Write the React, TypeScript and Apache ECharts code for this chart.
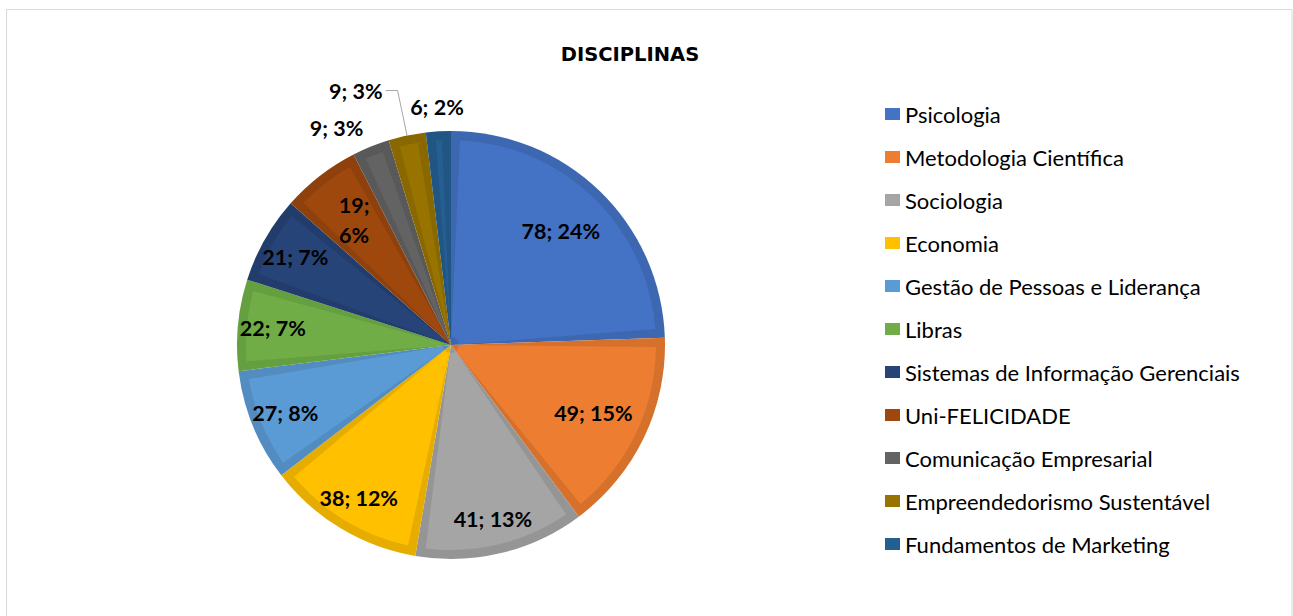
import React, { useEffect, useRef } from "react";
import * as echarts from "echarts";

const categories = [
  "Psicologia",
  "Metodologia Científica",
  "Sociologia",
  "Economia",
  "Gestão de Pessoas e Liderança",
  "Libras",
  "Sistemas de Informação Gerenciais",
  "Uni-FELICIDADE",
  "Comunicação Empresarial",
  "Empreendedorismo Sustentável",
  "Fundamentos de Marketing",
];
const values = [78, 49, 41, 38, 27, 22, 21, 19, 9, 9, 6];
const lightColors = [
  "#4472C4", "#ED7D31", "#A5A5A5", "#FFC000", "#5B9BD5", "#70AD47",
  "#264478", "#9E480E", "#636363", "#997300", "#255E91",
];
const darkColors = [
  "#3E67B1", "#D6712C", "#959595", "#E6AD00", "#528CC0", "#65A040",
  "#223D6C", "#8E410D", "#595959", "#8A6800", "#215583",
];
const nearLabelIdx = [0, 1, 7];
const farLabelIdx = [2, 3, 4, 5, 6];
const outerRingLabelIdx = [10];
const plainOutsideIdx = [8];
const leaderLabelIdx = [9];
const twoLineLabelIdx = [7];

const FONT = "Lato, 'Open Sans', sans-serif";

export default function App() {
  const ref = useRef<HTMLDivElement>(null);
  useEffect(() => {
    if (!ref.current) return;
    const chart = echarts.init(ref.current, undefined, { renderer: "svg" });
    const cx = 451;
    const cy = 345;
    const R = 214;
    const labelText = {
      color: "#000",
      fontFamily: FONT,
      fontWeight: "bold" as const,
      fontSize: 21.5,
    };
    const darkData = categories.map((name, i) => {
      const leader = leaderLabelIdx.includes(i);
      const plain = plainOutsideIdx.includes(i);
      return {
        name,
        value: values[i],
        itemStyle: { color: darkColors[i] },
        label:
          leader || plain
            ? { show: true, position: "outside", formatter: "{c}; {d}%", ...labelText, distanceToLabelLine: leader ? 3 : 0 }
            : { show: false },
        labelLine: leader
          ? { show: true, length: 46, length2: 12, lineStyle: { color: "#A6A6A6", width: 1 } }
          : plain
          ? { show: false, length: 20, length2: 0 }
          : { show: false },
      };
    });
    const lightData = categories.map((name, i) => ({
      name,
      value: values[i],
      itemStyle: { color: lightColors[i] },
    }));
    const labelData = (idx: number[]) =>
      categories.map((name, i) => ({
        name,
        value: values[i],
        label: {
          show: idx.includes(i),
          formatter: twoLineLabelIdx.includes(i) ? "{c};\n{d}%" : "{c}; {d}%",
        },
      }));
    const common = {
      type: "pie" as const,
      center: [cx, cy],
      startAngle: 90,
      clockwise: true,
      percentPrecision: 0,
      avoidLabelOverlap: false,
      silent: true,
      emphasis: { disabled: true },
    };
    const labelSeries = (name: string, radius: number[], idx: number[]) => ({
      ...common,
      name,
      radius,
      itemStyle: { color: "transparent" },
      label: { position: "inside", ...labelText, lineHeight: 30 },
      labelLine: { show: false },
      data: labelData(idx),
    });
    chart.setOption({
      animation: false,
      backgroundColor: "#fff",
      title: {
        text: "DISCIPLINAS",
        left: 625,
        textAlign: "center",
        top: 39,
        textStyle: { fontFamily: "'DejaVu Sans', sans-serif", fontWeight: "bold", fontSize: 19.5, color: "#000" },
      },
      legend: {
        orient: "vertical",
        left: 880,
        top: 98,
        itemWidth: 15,
        itemHeight: 12,
        itemGap: 21,
        icon: "rect",
        selectedMode: false,
        textStyle: { fontFamily: FONT, fontSize: 22, lineHeight: 22, color: "#000" },
        data: categories.map((name, i) => ({ name, itemStyle: { color: lightColors[i] } })),
      },
      graphic: [
        {
          type: "rect",
          shape: { x: 6.5, y: 9.5, width: 1285.5, height: 620 },
          style: { fill: "none", stroke: "#D9D9D9", lineWidth: 1 },
          silent: true,
        },
      ],
      series: [
        {
          ...common,
          name: "dark",
          radius: [0, R],
          data: darkData,
        },
        {
          ...common,
          name: "light",
          radius: [8, R - 9],
          padAngle: 5,
          label: { show: false },
          labelLine: { show: false },
          data: lightData,
        },
        labelSeries("nearLabels", [96, R], nearLabelIdx),
        labelSeries("farLabels", [138, R], farLabelIdx),
        labelSeries("ringLabels", [R, R + 42], outerRingLabelIdx),
      ],
    });
    return () => chart.dispose();
  }, []);
  return (
    <div
      ref={ref}
      style={{ position: "fixed", left: 0, top: 0, width: 1293, height: 616 }}
    />
  );
}
